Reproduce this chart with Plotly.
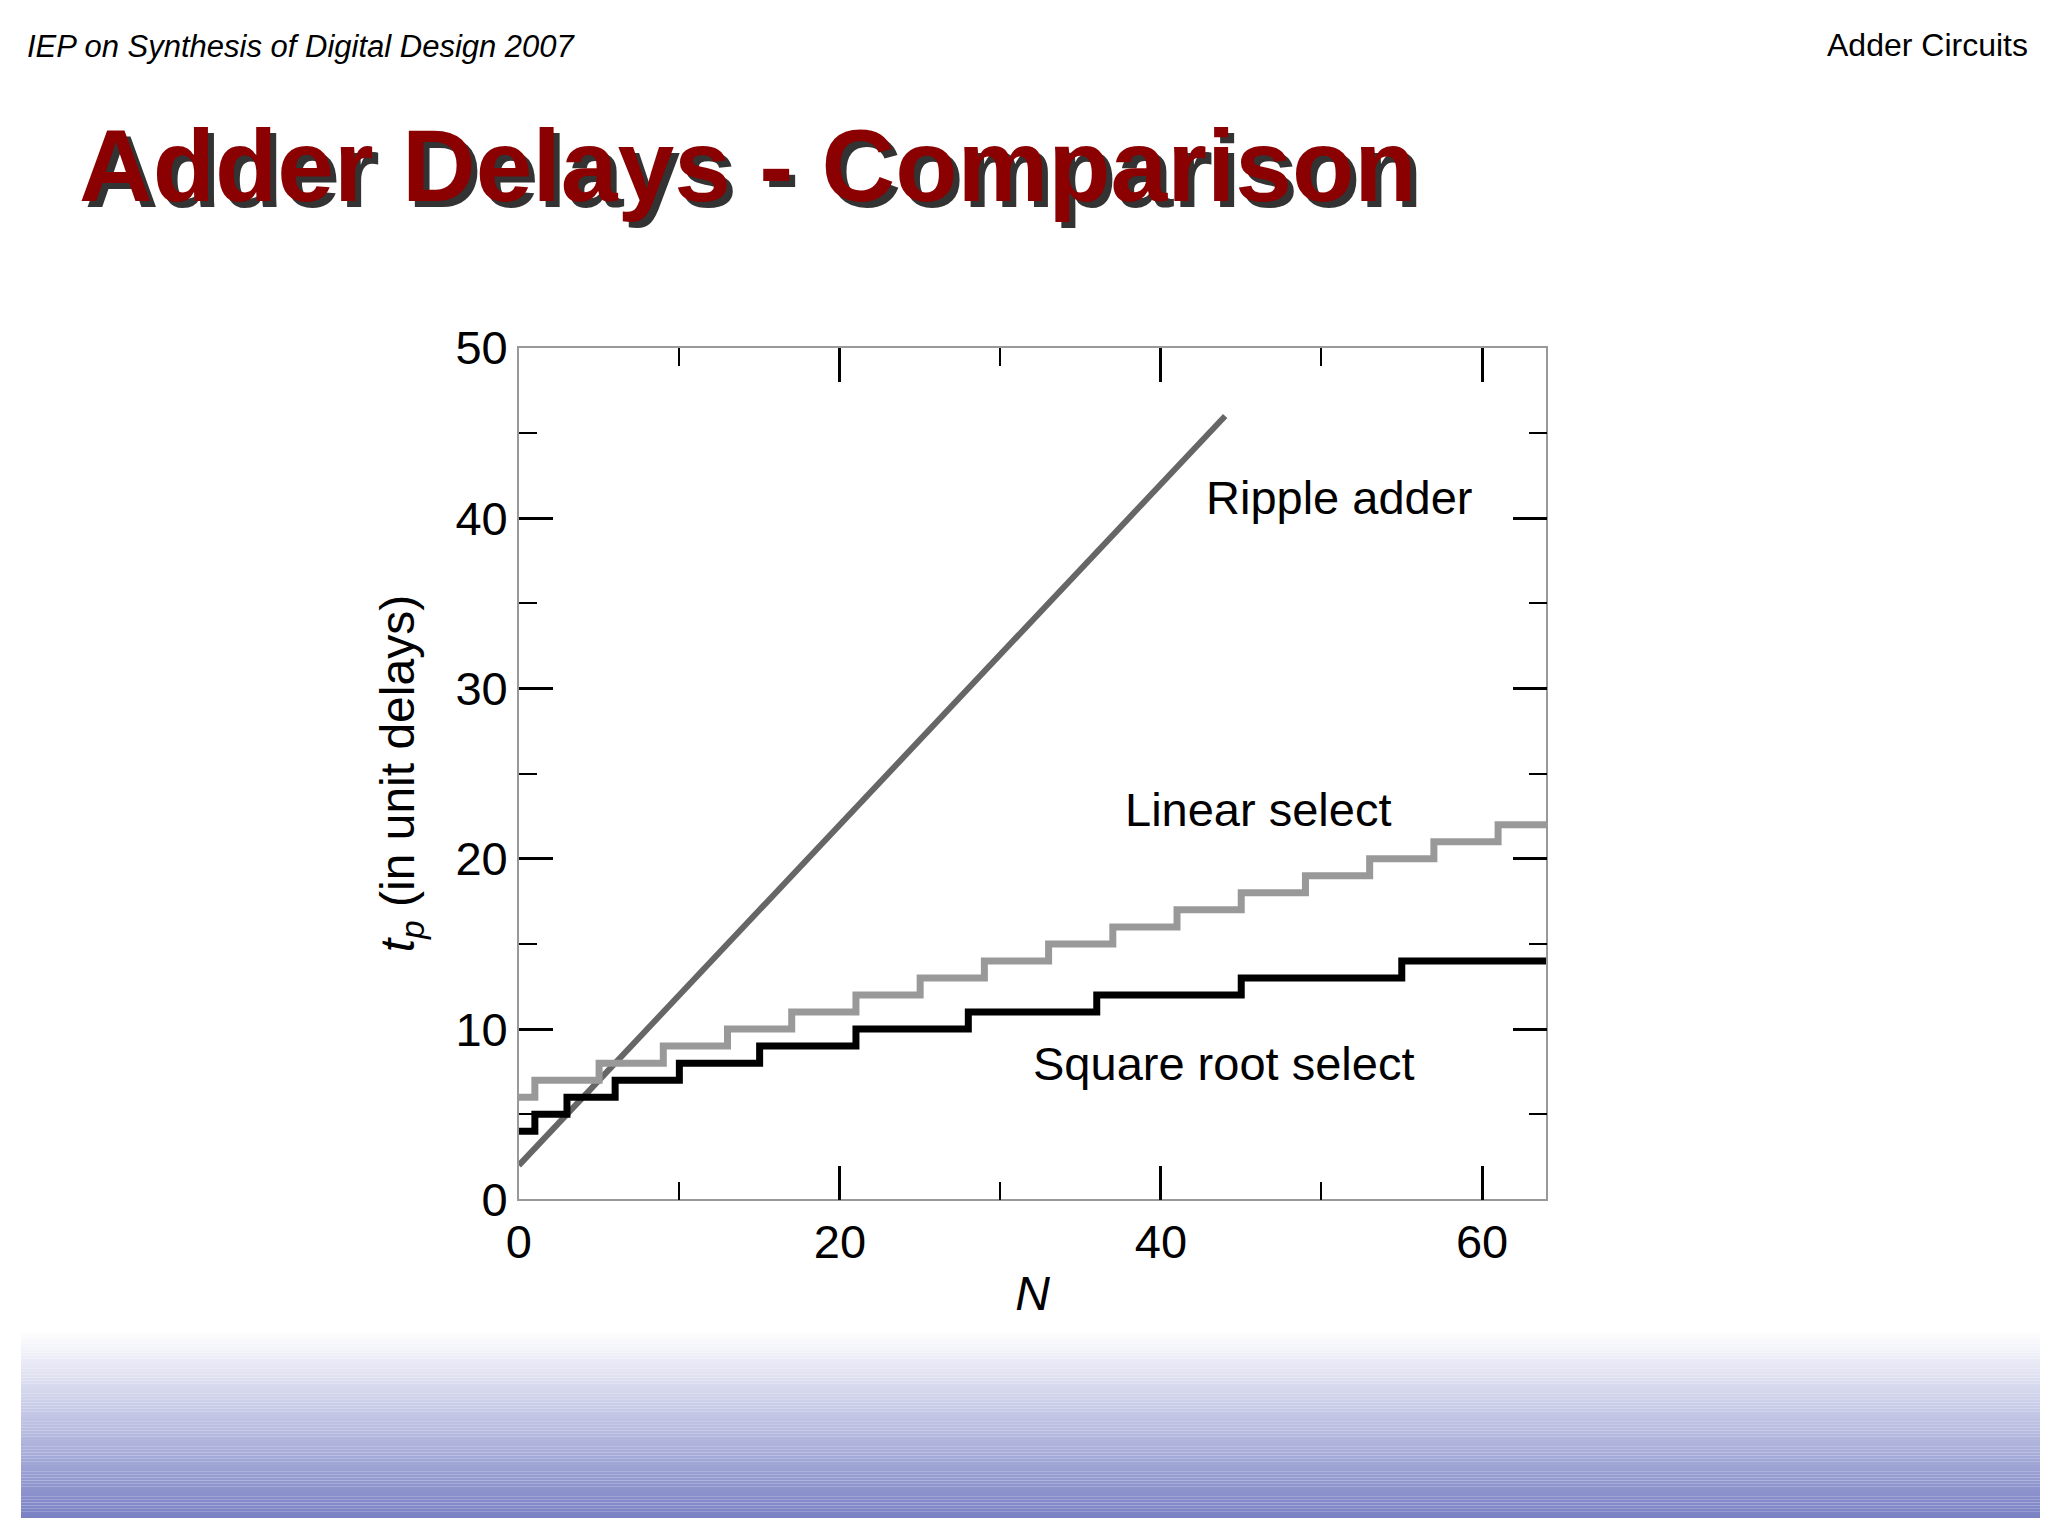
import plotly.graph_objects as go

# data
ripple_n = [0, 44]
ripple_tp = [2, 46]

linear_n = [0, 1, 5, 9, 13, 17, 21, 25, 29, 33, 37, 41, 45, 49, 53, 57, 61, 64]
linear_tp = [6, 7, 8, 9, 10, 11, 12, 13, 14, 15, 16, 17, 18, 19, 20, 21, 22, 22]

sqrt_n = [0, 1, 3, 6, 10, 15, 21, 28, 36, 45, 55, 64]
sqrt_tp = [4, 5, 6, 7, 8, 9, 10, 11, 12, 13, 14, 14]

labels = ['Ripple adder', 'Linear select', 'Square root select']
label_x = [51.1, 46.1, 43.9]
label_y = [41.2, 22.9, 8.0]

fig = go.Figure()
fig.add_trace(go.Scatter(x=ripple_n, y=ripple_tp, mode='lines',
                         line=dict(color='#666666', width=6)))
fig.add_trace(go.Scatter(x=linear_n, y=linear_tp, mode='lines', line_shape='hv',
                         line=dict(color='#999999', width=7)))
fig.add_trace(go.Scatter(x=sqrt_n, y=sqrt_tp, mode='lines', line_shape='hv',
                         line=dict(color='black', width=7)))

for t, x, y in zip(labels, label_x, label_y):
    fig.add_annotation(x=x, y=y, text=t, showarrow=False,
                       font=dict(size=47, color='black', family='Liberation Sans'))

axis_common = dict(ticks='inside', tickcolor='black', tickwidth=3, ticklen=34,
                   showgrid=False, zeroline=False, showline=True, linecolor='#999999',
                   linewidth=1.5, mirror='ticks',
                   tickfont=dict(size=47, color='black', family='Liberation Sans'))
fig.update_xaxes(range=[0, 64], tickvals=[0, 20, 40, 60],
                 minor=dict(tickvals=[10, 30, 50], ticks='inside', ticklen=18, tickcolor='black', tickwidth=2),
                 title=dict(text='<i>N</i>', font=dict(size=48, color='black', family='Liberation Sans'), standoff=10),
                 domain=[501/2048, 1535/2048], **axis_common)
fig.update_yaxes(range=[0, 50], dtick=10,
                 minor=dict(dtick=5, ticks='inside', ticklen=18, tickcolor='black', tickwidth=2),
                 title=dict(text='<i>t</i><sub><i>p</i></sub> (in unit delays)',
                            font=dict(size=48, color='black', family='Liberation Sans'), standoff=26),
                 domain=[1 - 1206/1536, 1 - 324/1536], **axis_common)

# bottom gradient band
shapes = []
n = 60
top, bottom = 1 - 1342/1536, 0
for i in range(n):
    f = i / (n - 1)
    r = int(255 + (122 - 255) * f)
    g = int(255 + (130 - 255) * f)
    b = int(255 + (196 - 255) * f)
    y0 = top - (top - bottom) * i / n
    y1 = top - (top - bottom) * (i + 1) / n
    shapes.append(dict(type='rect', xref='paper', yref='paper', x0=0, x1=1, y0=y1, y1=y0,
                       fillcolor=f'rgb({r},{g},{b})', line_width=0, layer='below'))

# header texts and title with shadow
fig.add_annotation(xref='paper', yref='paper', x=4/2048, y=1 - 12/1536, xanchor='left', yanchor='middle',
                   text='<i>IEP on Synthesis of Digital Design 2007</i>', showarrow=False,
                   font=dict(size=31, color='black', family='Liberation Sans'))
fig.add_annotation(xref='paper', yref='paper', x=2022/2048, y=1 - 10/1536, xanchor='right', yanchor='middle',
                   text='Adder Circuits', showarrow=False,
                   font=dict(size=32, color='black', family='Liberation Sans'))
fig.add_annotation(xref='paper', yref='paper', x=62/2048, y=1 - 142/1536, xanchor='left', yanchor='middle',
                   text='<b>Adder Delays - Comparison</b>', showarrow=False,
                   font=dict(size=102, color='#333333', family='Liberation Sans'))
fig.add_annotation(xref='paper', yref='paper', x=56/2048, y=1 - 136/1536, xanchor='left', yanchor='middle',
                   text='<b>Adder Delays - Comparison</b>', showarrow=False,
                   font=dict(size=102, color='#8b0000', family='Liberation Sans'))

fig.update_layout(width=2048, height=1536, margin=dict(l=0, r=0, t=0, b=0),
                  plot_bgcolor='white', paper_bgcolor='white', showlegend=False,
                  shapes=shapes)
fig.write_html('out.html')
